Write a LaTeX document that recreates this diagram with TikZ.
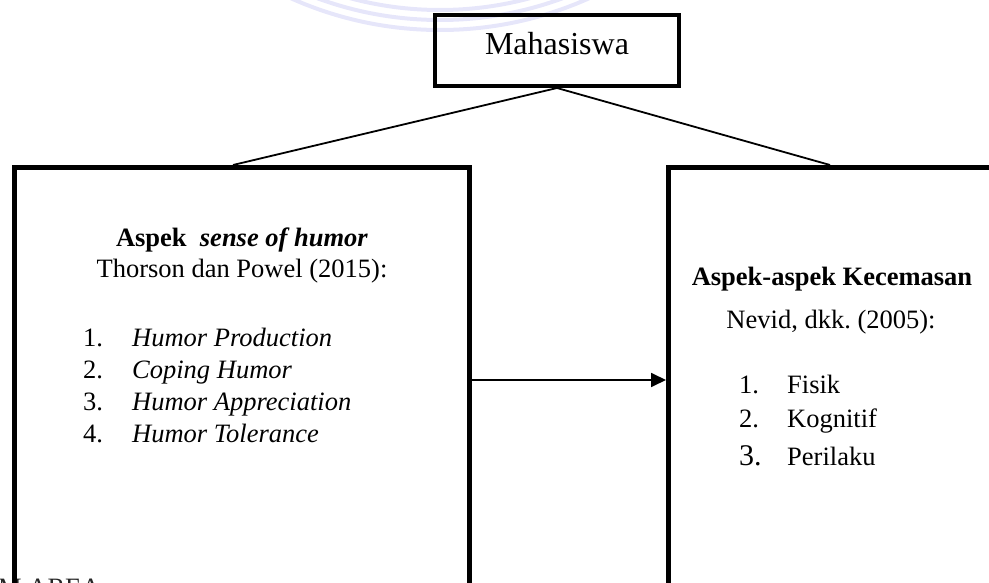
\documentclass[tikz,border=0pt]{standalone}
\usepackage{fontspec}
\setmainfont{Liberation Serif}
\usetikzlibrary{arrows.meta}
\definecolor{wmcol}{RGB}{230,230,250}
\begin{document}
\begin{tikzpicture}[x=1pt,y=-1pt,
  box/.style={draw, line width=5pt, rectangle, inner sep=0pt},
  conn/.style={draw, line width=1.8pt},
  txt/.style={font=\fontsize{26.5}{30}\selectfont, inner sep=0pt, anchor=base},
  txtl/.style={font=\fontsize{26.5}{30}\selectfont, inner sep=0pt, anchor=base west},
  wm/.style={draw=wmcol, line width=4pt}]
\useasboundingbox (0,0) rectangle (989,583);
\clip (0,0) rectangle (989,583);
% watermark
\draw[wm] (440,-335) circle[radius=365];
\draw[wm] (440,-335) circle[radius=355];
\draw[wm] (440,-335) circle[radius=345];
\node[txtl, text=black!85] (wmtext) at (-2,596) {M AREA};
% boxes
\node[box, line width=4pt, minimum width=244pt, minimum height=71pt] (mhs) at (557,50.5) {};
\node[txt, font=\fontsize{32}{36}\selectfont] (mhstext) at (557,55) {Mahasiswa};
\node[box, minimum width=455pt, minimum height=530pt] (lbox) at (242,432.5) {};
\node[box, minimum width=431.5pt, minimum height=530pt] (rbox) at (884.25,432.5) {};
% connectors
\draw[conn] (mhs.south) -- ([xshift=221pt]lbox.north west);
\draw[conn] (mhs.south) -- ([xshift=164pt]rbox.north west);
\draw[conn, -{Triangle[length=15pt,width=14pt]}] (lbox.east |- 0,380) -- (rbox.west |- 0,380);
% left texts
\node[txt] (lt1) at (242,247) {\textbf{Aspek}\ \ \textbf{\textit{sense of humor}}};
\node[txt] (lt2) at (242,277) {Thorson dan Powel (2015):};
\node[txtl] (ln1) at (83,346) {1.};
\node[txtl] (li1) at (132,346) {\textit{Humor Production}};
\node[txtl] (ln2) at (83,378) {2.};
\node[txtl] (li2) at (132,378) {\textit{Coping Humor}};
\node[txtl] (ln3) at (83,410) {3.};
\node[txtl] (li3) at (132,410) {\textit{Humor Appreciation}};
\node[txtl] (ln4) at (83,442) {4.};
\node[txtl] (li4) at (132,442) {\textit{Humor Tolerance}};
% right texts
\node[txt] (rt1) at (832,285) {\textbf{Aspek-aspek Kecemasan}};
\node[txt] (rt2) at (831,328) {Nevid, dkk.\ (2005):};
\node[txtl] (rn1) at (739,393) {1.};
\node[txtl] (ri1) at (787,393) {Fisik};
\node[txtl] (rn2) at (739,427) {2.};
\node[txtl] (ri2) at (787,427) {Kognitif};
\node[txtl, font=\fontsize{30}{34}\selectfont] (rn3) at (739,465) {3.};
\node[txtl] (ri3) at (787,465) {Perilaku};
\end{tikzpicture}
\end{document}
